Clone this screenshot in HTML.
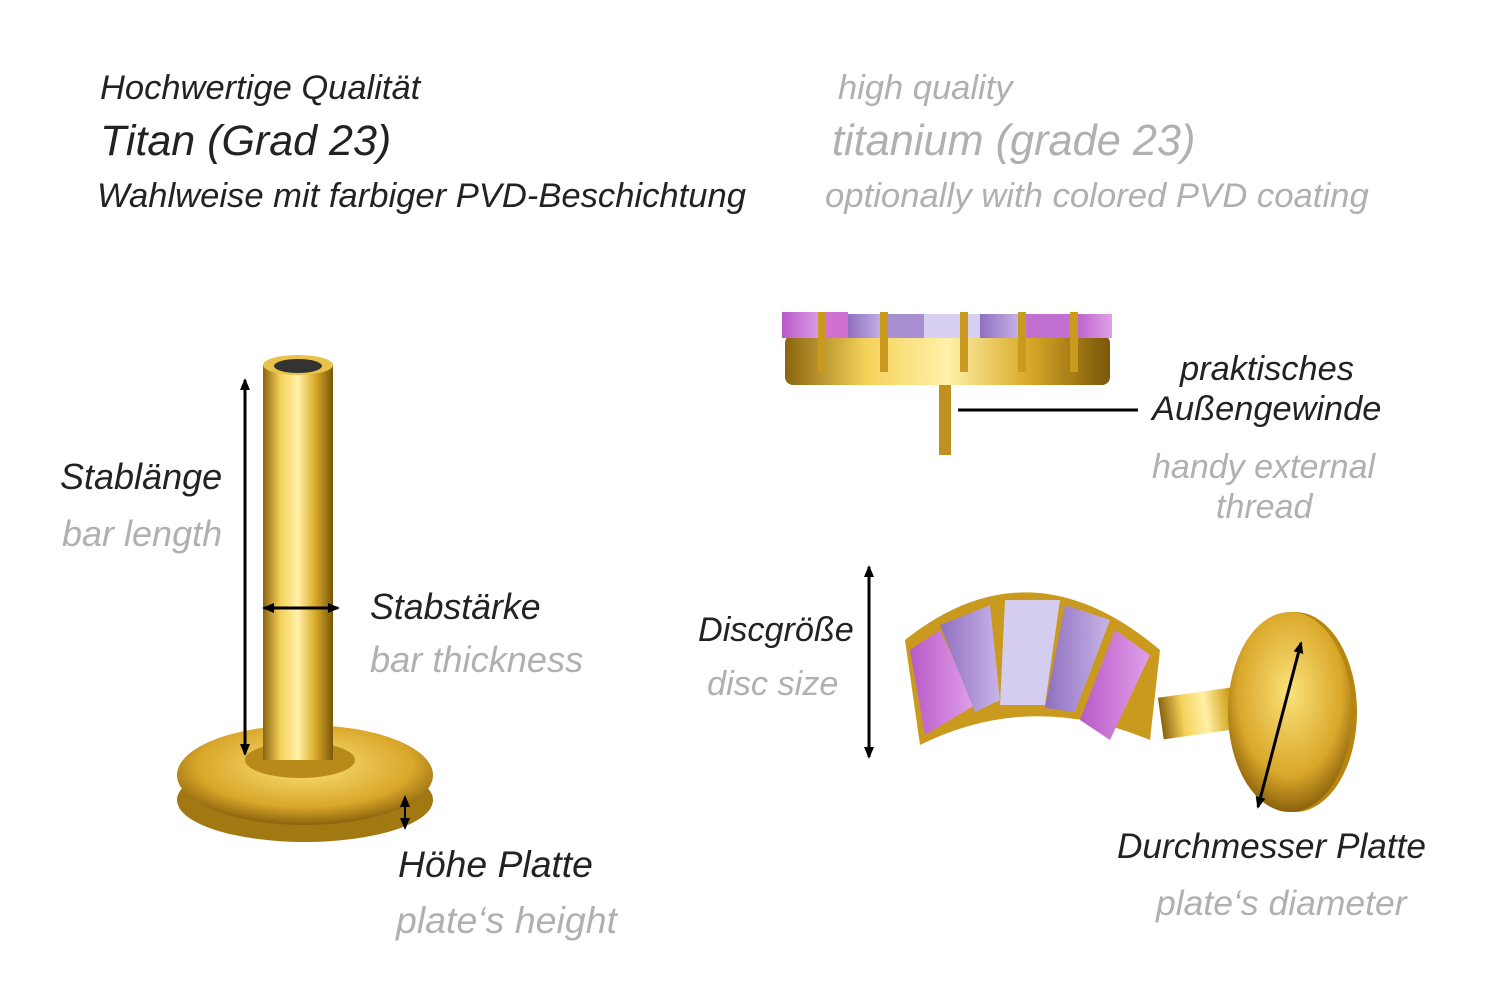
<!DOCTYPE html>
<html><head><meta charset="utf-8"><style>
html,body{margin:0;padding:0;background:#fff}
body{width:1500px;height:1001px;position:relative;overflow:hidden;font-family:"Liberation Sans",sans-serif;font-style:italic}
.t{position:absolute;white-space:nowrap;line-height:1}
.d{color:#222}.g{color:#b0b0b0}
</style></head><body>
<svg width="1500" height="1001" style="position:absolute;left:0;top:0">
<defs>
<linearGradient id="gold" x1="0" x2="1" y1="0" y2="0">
<stop offset="0" stop-color="#8a6410"/><stop offset="0.25" stop-color="#f5d25a"/><stop offset="0.5" stop-color="#fff1a8"/><stop offset="0.75" stop-color="#d8a928"/><stop offset="1" stop-color="#7a5608"/></linearGradient>
<radialGradient id="plate" cx="0.5" cy="0.4" r="0.6"><stop offset="0" stop-color="#fbe27a"/><stop offset="0.7" stop-color="#d9a72a"/><stop offset="1" stop-color="#8a620c"/></radialGradient>
<linearGradient id="pink" x1="0" x2="1"><stop offset="0" stop-color="#b85ac8"/><stop offset="1" stop-color="#e0a0e8"/></linearGradient>
<linearGradient id="lav" x1="0" x2="1"><stop offset="0" stop-color="#8f6fc0"/><stop offset="1" stop-color="#c8b4e8"/></linearGradient>
<marker id="ah" markerUnits="userSpaceOnUse" markerWidth="12" markerHeight="10" refX="10" refY="5" orient="auto-start-reverse"><path d="M0,0 L12,5 L0,10 z" fill="#000"/></marker>
</defs>
<ellipse cx="305" cy="800" rx="128" ry="42" fill="#a27812"/>
<ellipse cx="305" cy="775" rx="128" ry="50" fill="url(#plate)"/>
<ellipse cx="300" cy="760" rx="55" ry="18" fill="#b88a1a"/>
<rect x="263" y="365" width="70" height="395" fill="url(#gold)"/>
<ellipse cx="298" cy="365" rx="35" ry="10" fill="#e8c24a"/>
<ellipse cx="298" cy="366" rx="24" ry="7" fill="#333"/>
<line x1="245" y1="380" x2="245" y2="754" stroke="#000" stroke-width="3" marker-start="url(#ah)" marker-end="url(#ah)"/>
<line x1="264" y1="608" x2="338" y2="608" stroke="#000" stroke-width="3" marker-start="url(#ah)" marker-end="url(#ah)"/>
<line x1="405" y1="797" x2="405" y2="828" stroke="#000" stroke-width="2" marker-start="url(#ah)" marker-end="url(#ah)"/>
<rect x="785" y="335" width="325" height="50" rx="8" fill="url(#gold)"/>
<g>
<rect x="782" y="312" width="40" height="26" fill="url(#pink)"/><rect x="822" y="312" width="26" height="26" fill="#d070d0"/>
<rect x="848" y="314" width="36" height="24" fill="url(#lav)"/><rect x="884" y="314" width="40" height="24" fill="#a890d0"/>
<rect x="924" y="314" width="56" height="24" fill="#d8d0f0"/><rect x="980" y="314" width="40" height="24" fill="url(#lav)"/>
<rect x="1020" y="314" width="52" height="24" fill="#c070d0"/><rect x="1072" y="314" width="40" height="24" fill="url(#pink)"/>
</g>
<g fill="#c99a1e"><rect x="818" y="312" width="8" height="60"/><rect x="880" y="312" width="8" height="60"/><rect x="960" y="312" width="8" height="60"/><rect x="1018" y="312" width="8" height="60"/><rect x="1070" y="312" width="8" height="60"/></g>
<rect x="939" y="385" width="12" height="70" fill="#c09020"/>
<line x1="958" y1="410" x2="1138" y2="410" stroke="#000" stroke-width="3"/>
<rect x="1160" y="692" width="90" height="42" fill="url(#gold)" transform="rotate(-8 1200 710)"/>
<ellipse cx="1295" cy="712" rx="62" ry="100" fill="#b8860f"/>
<ellipse cx="1290" cy="712" rx="62" ry="100" fill="url(#plate)"/>
<line x1="1301" y1="643" x2="1258" y2="807" stroke="#000" stroke-width="3" marker-start="url(#ah)" marker-end="url(#ah)"/>
<path d="M905,640 Q1030,540 1160,650 L1150,740 Q1030,690 920,745 Z" fill="#c99a1e"/>
<polygon points="910,650 940,630 975,705 925,735" fill="url(#pink)"/>
<polygon points="940,625 990,605 1000,700 975,712" fill="url(#lav)"/>
<polygon points="1005,600 1060,600 1045,705 1000,705" fill="#d4cdf0"/>
<polygon points="1065,605 1110,620 1075,712 1045,708" fill="url(#lav)"/>
<polygon points="1115,630 1150,655 1110,740 1080,720" fill="url(#pink)"/>
<line x1="869" y1="567" x2="869" y2="757" stroke="#000" stroke-width="3" marker-start="url(#ah)" marker-end="url(#ah)"/>
</svg>
<div class="t d" style="left:100px;top:71px;font-size:34.5px">Hochwertige Qualität</div>
<div class="t d" style="left:100px;top:120px;font-size:43px">Titan (Grad 23)</div>
<div class="t d" style="left:97px;top:179px;font-size:34.6px">Wahlweise mit farbiger PVD-Beschichtung</div>
<div class="t g" style="left:838px;top:71px;font-size:34.5px">high quality</div>
<div class="t g" style="left:832px;top:120px;font-size:43.3px">titanium (grade 23)</div>
<div class="t g" style="left:825px;top:179px;font-size:34.7px">optionally with colored PVD coating</div>
<div class="t d" style="left:60px;top:459px;font-size:36px">Stablänge</div>
<div class="t g" style="left:62px;top:516px;font-size:36px">bar length</div>
<div class="t d" style="left:370px;top:590px;font-size:35.7px">Stabstärke</div>
<div class="t g" style="left:370px;top:642px;font-size:36.2px">bar thickness</div>
<div class="t d" style="left:398px;top:846px;font-size:37.3px">Höhe Platte</div>
<div class="t g" style="left:396px;top:902px;font-size:37.5px">plate‘s height</div>
<div class="t d" style="left:1180px;top:352px;font-size:34.4px">praktisches</div>
<div class="t d" style="left:1152px;top:392px;font-size:34.4px">Außengewinde</div>
<div class="t g" style="left:1152px;top:450px;font-size:34px">handy external</div>
<div class="t g" style="left:1216px;top:490px;font-size:34px">thread</div>
<div class="t d" style="left:698px;top:613px;font-size:34.2px">Discgröße</div>
<div class="t g" style="left:707px;top:667px;font-size:34.3px">disc size</div>
<div class="t d" style="left:1117px;top:829px;font-size:35.2px">Durchmesser Platte</div>
<div class="t g" style="left:1156px;top:886px;font-size:35.5px">plate‘s diameter</div>
</body></html>
